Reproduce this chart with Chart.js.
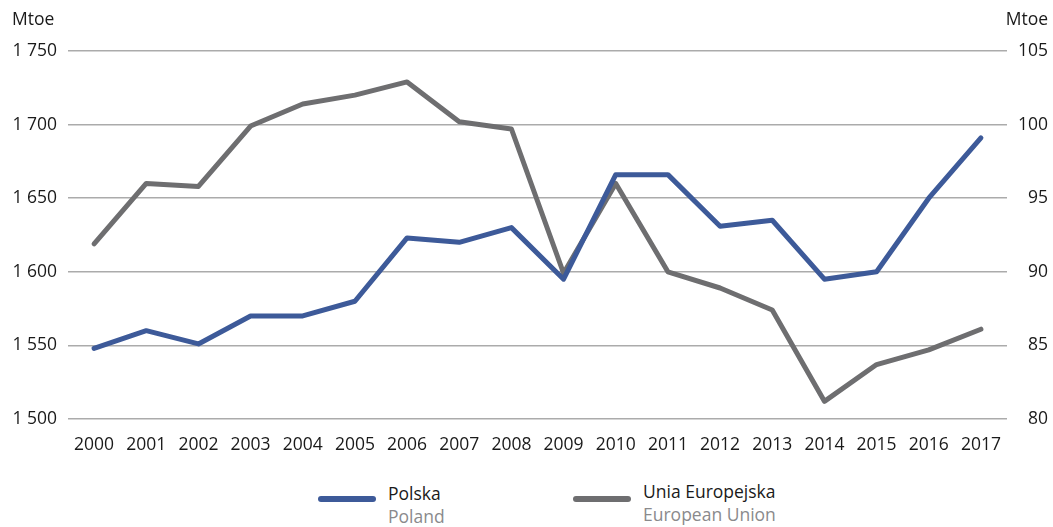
<!DOCTYPE html>
<html>
<head>
<meta charset="utf-8">
<script src="https://cdn.jsdelivr.net/npm/chart.js@4.4.1/dist/chart.umd.min.js"></script>
<style>
  body { margin: 0; background: #fff; font-family: "Open Sans", sans-serif; }
  #wrap { position: relative; width: 1053px; height: 527px; }
  #chart { position: absolute; left: 0; top: 0; }
  .unit { position: absolute; top: 6px; font-size: 17.5px; color: #1a1a1a; }
  .leg-line { position: absolute; height: 6px; border-radius: 3px; }
  .leg-text { position: absolute; font-size: 17.5px; line-height: 23px; color: #1a1a1a; }
  .leg-text span { display: block; color: #8a8a8c; }
</style>
</head>
<body>
<div id="wrap">
  <canvas id="chart" width="1053" height="462"></canvas>
  <div class="unit" style="left:12px;">Mtoe</div>
  <div class="unit" style="right:5px;">Mtoe</div>
  <div class="leg-line" style="left:318px; top:496px; width:58px; background:#3d5a99;"></div>
  <div class="leg-text" style="left:388px; top:482px;">Polska<span>Poland</span></div>
  <div class="leg-line" style="left:573px; top:496px; width:58px; background:#6e6e70;"></div>
  <div class="leg-text" style="left:643px; top:480px;">Unia Europejska<span>European Union</span></div>
</div>
<script>
// data
const years = ['2000', '2001', '2002', '2003', '2004', '2005', '2006', '2007', '2008',
    '2009', '2010', '2011', '2012', '2013', '2014', '2015', '2016', '2017'];

// Poland, right axis (Mtoe)
const polska = [84.8, 86.0, 85.1, 87.0, 87.0, 88.0, 92.3, 92.0, 93.0,
    89.5, 96.6, 96.6, 93.1, 93.5, 89.5, 90.0, 95.0, 99.1];

// European Union, left axis (Mtoe)
const uniaEuropejska = [1619, 1660, 1658, 1699, 1714, 1720, 1729, 1702, 1697,
    1599, 1660, 1600, 1589, 1574, 1512, 1537, 1547, 1561];

const tickFont = { family: '"Open Sans", sans-serif', size: 17.5 };
const textColor = '#1a1a1a';
const gridColor = '#ababab';

// format 1750 -> "1 750"
function spaced(v) {
    return String(v).replace(/\B(?=(\d{3})+(?!\d))/g, ' ');
}

const ctx = document.getElementById('chart').getContext('2d');
new Chart(ctx, {
    type: 'line',
    data: {
        labels: years,
        datasets: [
            {
                label: 'Polska',
                data: polska,
                yAxisID: 'yRight',
                borderColor: '#3d5a99',
                borderWidth: 5,
                pointRadius: 0,
                tension: 0,
                borderCapStyle: 'round',
                borderJoinStyle: 'round',
            },
            {
                label: 'Unia Europejska',
                data: uniaEuropejska,
                yAxisID: 'yLeft',
                borderColor: '#6e6e70',
                borderWidth: 5,
                pointRadius: 0,
                tension: 0,
                borderCapStyle: 'round',
                borderJoinStyle: 'round',
            },
        ],
    },
    options: {
        responsive: false,
        animation: false,
        layout: { padding: { top: 51, right: 5, left: 0, bottom: 0 } },
        plugins: {
            legend: { display: false },
            tooltip: { enabled: false },
        },
        scales: {
            x: {
                offset: true,
                grid: { display: false },
                border: { display: false },
                ticks: { font: tickFont, color: textColor, padding: 8, maxRotation: 0 },
                afterFit: (axis) => { axis.height = 43; },
            },
            yLeft: {
                position: 'left',
                min: 1500,
                max: 1750,
                grid: { color: gridColor, lineWidth: 1.5, drawTicks: false },
                border: { display: false },
                ticks: {
                    stepSize: 50,
                    font: tickFont,
                    color: textColor,
                    padding: 11,
                    callback: (v) => spaced(v),
                },
                afterFit: (axis) => { axis.width = 68; },
            },
            yRight: {
                position: 'right',
                min: 80,
                max: 105,
                grid: { display: false, drawTicks: false },
                border: { display: false },
                ticks: {
                    stepSize: 5,
                    font: tickFont,
                    color: textColor,
                    crossAlign: 'far',
                    padding: 8,
                },
                afterFit: (axis) => { axis.width = 41; },
            },
        },
    },
});
</script>
</body>
</html>
